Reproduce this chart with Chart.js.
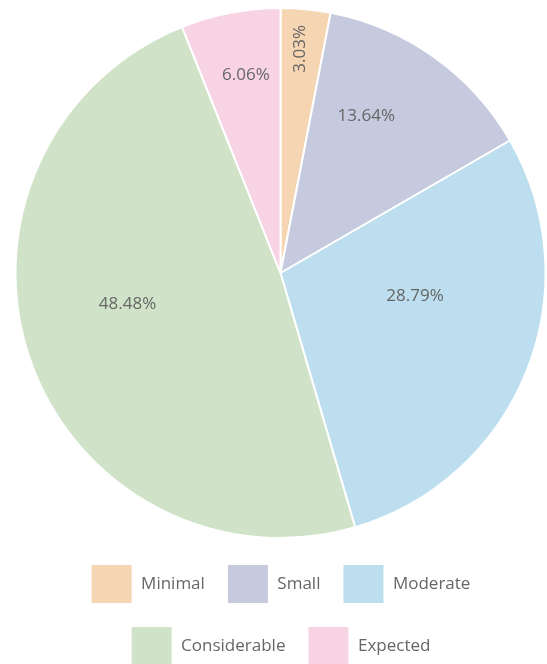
<!DOCTYPE html>
<html>
<head>
<meta charset="utf-8">
<script src="https://cdn.jsdelivr.net/npm/chart.js@4/dist/chart.umd.min.js"></script>
<style>
  html, body { margin: 0; padding: 0; background: #ffffff; overflow: hidden; }
  #wrap { position: relative; width: 547px; height: 676px; }
</style>
</head>
<body>
<div id="wrap"><canvas id="c"></canvas></div>
<script>
const categories = ['Minimal', 'Small', 'Moderate', 'Considerable', 'Expected'];
const values = [2, 9, 19, 32, 4];
const colors = ['#f6d5b2', '#c5cadf', '#bcdeee', '#d0e3c8', '#f8d3e4'];

const sliceLabels = {
  id: 'sliceLabels',
  afterDatasetsDraw(chart, args, opts) {
    const ctx = chart.ctx;
    const ds = chart.data.datasets[0].data;
    const total = ds.reduce((a, b) => a + b, 0);
    const meta = chart.getDatasetMeta(0);
    ctx.save();
    ctx.font = opts.font;
    ctx.fillStyle = opts.color;
    ctx.textAlign = 'center';
    ctx.textBaseline = 'middle';
    meta.data.forEach((arc, i) => {
      const p = arc.getProps(['x', 'y', 'startAngle', 'endAngle', 'outerRadius'], true);
      const mid = (p.startAngle + p.endAngle) / 2 + (opts.angleShift[i] || 0) * Math.PI / 180;
      const r = p.outerRadius * opts.radial[i];
      const px = p.x + Math.cos(mid) * r;
      const py = p.y + Math.sin(mid) * r;
      const txt = (ds[i] / total * 100).toFixed(2) + '%';
      ctx.save();
      ctx.translate(px, py);
      if (opts.rotate[i]) ctx.rotate(-Math.PI / 2);
      ctx.fillText(txt, 0, 0);
      ctx.restore();
    });
    ctx.restore();
  }
};

new Chart(document.getElementById('c'), {
  type: 'pie',
  data: {
    labels: categories,
    datasets: [{
      data: values,
      backgroundColor: colors,
      borderColor: '#ffffff',
      borderWidth: 2,
      radius: 265
    }]
  },
  options: {
    responsive: true,
    maintainAspectRatio: false,
    animation: false,
    layout: { padding: { top: 4, left: 14, right: 0, bottom: 0 } },
    plugins: {
      tooltip: { enabled: false },
      legend: {
        position: 'bottom',
        labels: {
          boxWidth: 42,
          boxHeight: 40,
          padding: 22,
          color: '#666666',
          font: { family: "'Open Sans', sans-serif", size: 17 }
        }
      },
      sliceLabels: {
        font: "17px 'Open Sans', sans-serif",
        color: '#666666',
        radial: [0.849, 0.675, 0.515, 0.589, 0.758],
        angleShift: [-0.35, -6.8, -12.1, 7.6, 1.0],
        rotate: [true, false, false, false, false]
      }
    }
  },
  plugins: [sliceLabels]
});
</script>
</body>
</html>
